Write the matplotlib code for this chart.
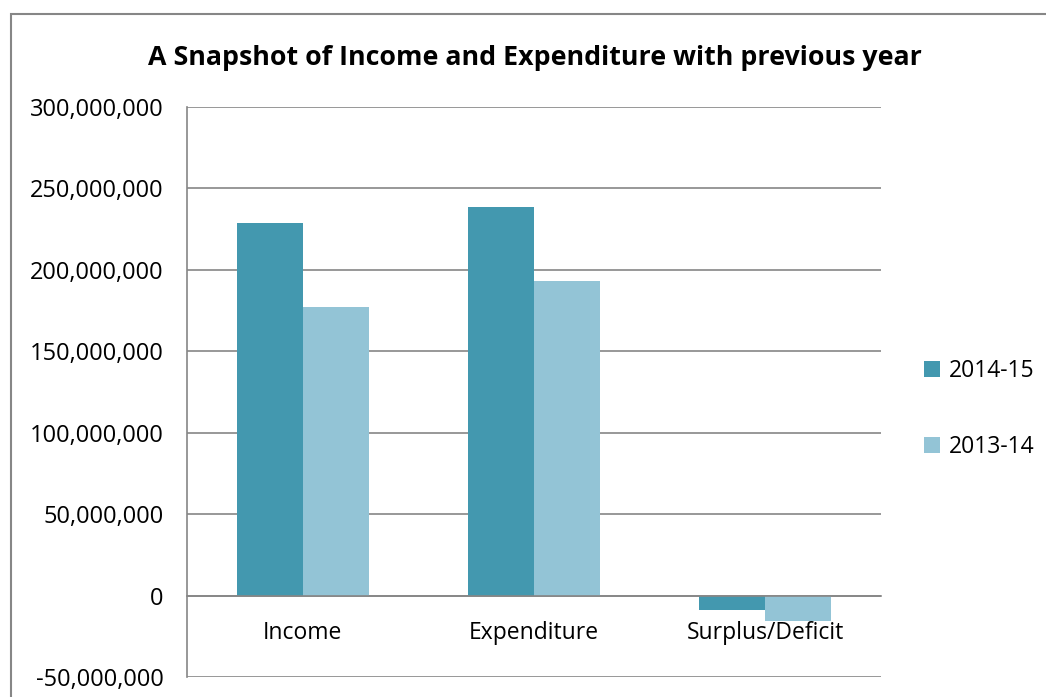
import matplotlib
matplotlib.use("Agg")
import matplotlib.pyplot as plt
from matplotlib.patches import Rectangle
from matplotlib.ticker import FuncFormatter
import numpy as np

# -------------------------
# Data
# -------------------------
categories = ["Income", "Expenditure", "Surplus/Deficit"]
series_names = ["2014-15", "2013-14"]
values_2014_15 = [229_000_000, 238_500_000, -9_000_000]
values_2013_14 = [177_000_000, 193_000_000, -15_500_000]
y_ticks = [-50_000_000, 0, 50_000_000, 100_000_000, 150_000_000,
           200_000_000, 250_000_000, 300_000_000]

colors = ["#4398AF", "#93C4D6"]
grid_color = "#868686"

plt.rcParams['font.family'] = ['Open Sans', 'DejaVu Sans']

fig = plt.figure(figsize=(10.46, 6.97), dpi=100)
ax = fig.add_axes([187 / 1046, 1 - 677 / 697, (881 - 187) / 1046, (677 - 107) / 697])

x = np.arange(len(categories))
width = 1 / 3.5
ax.bar(x - width / 2, values_2014_15, width, color=colors[0], label=series_names[0], zorder=3)
ax.bar(x + width / 2, values_2013_14, width, color=colors[1], label=series_names[1], zorder=3)

ax.set_xlim(-0.5, len(categories) - 0.5)
ax.set_ylim(y_ticks[0], y_ticks[-1])
ax.set_yticks(y_ticks)
ax.yaxis.set_major_formatter(FuncFormatter(lambda v, p: f"{int(v):,}"))
ax.yaxis.grid(True, color=grid_color, lw=1.2, zorder=0)
ax.tick_params(axis="y", length=0, pad=17, labelsize=17)

# category axis sits on zero
ax.spines['bottom'].set_position(('data', 0))
ax.spines['bottom'].set_color(grid_color)
ax.spines['bottom'].set_linewidth(1.2)
ax.spines['bottom'].set_zorder(4)
ax.spines['left'].set_color(grid_color)
ax.spines['left'].set_linewidth(1.2)
ax.spines['top'].set_visible(False)
ax.spines['right'].set_visible(False)
ax.set_xticks(x)
ax.set_xticklabels(categories)
ax.tick_params(axis="x", length=0, pad=18, labelsize=16.5)

ax.set_title("A Snapshot of Income and Expenditure with previous year",
             fontsize=19.3, fontweight="bold", pad=30, x=0.502)

ax.legend(loc="center left", bbox_to_anchor=(1.032, 0.47), frameon=False,
          fontsize=16.5, handlelength=0.7, handleheight=0.7, handletextpad=0.4,
          labelspacing=2.3)

# outer chart border (cropped on right/bottom)
fig.add_artist(Rectangle((11 / 1046, -0.1), 1.2, 1.1 - 14 / 697,
                         transform=fig.transFigure, fill=False,
                         edgecolor=grid_color, lw=1.5))

fig.savefig("out.png", dpi=100)
